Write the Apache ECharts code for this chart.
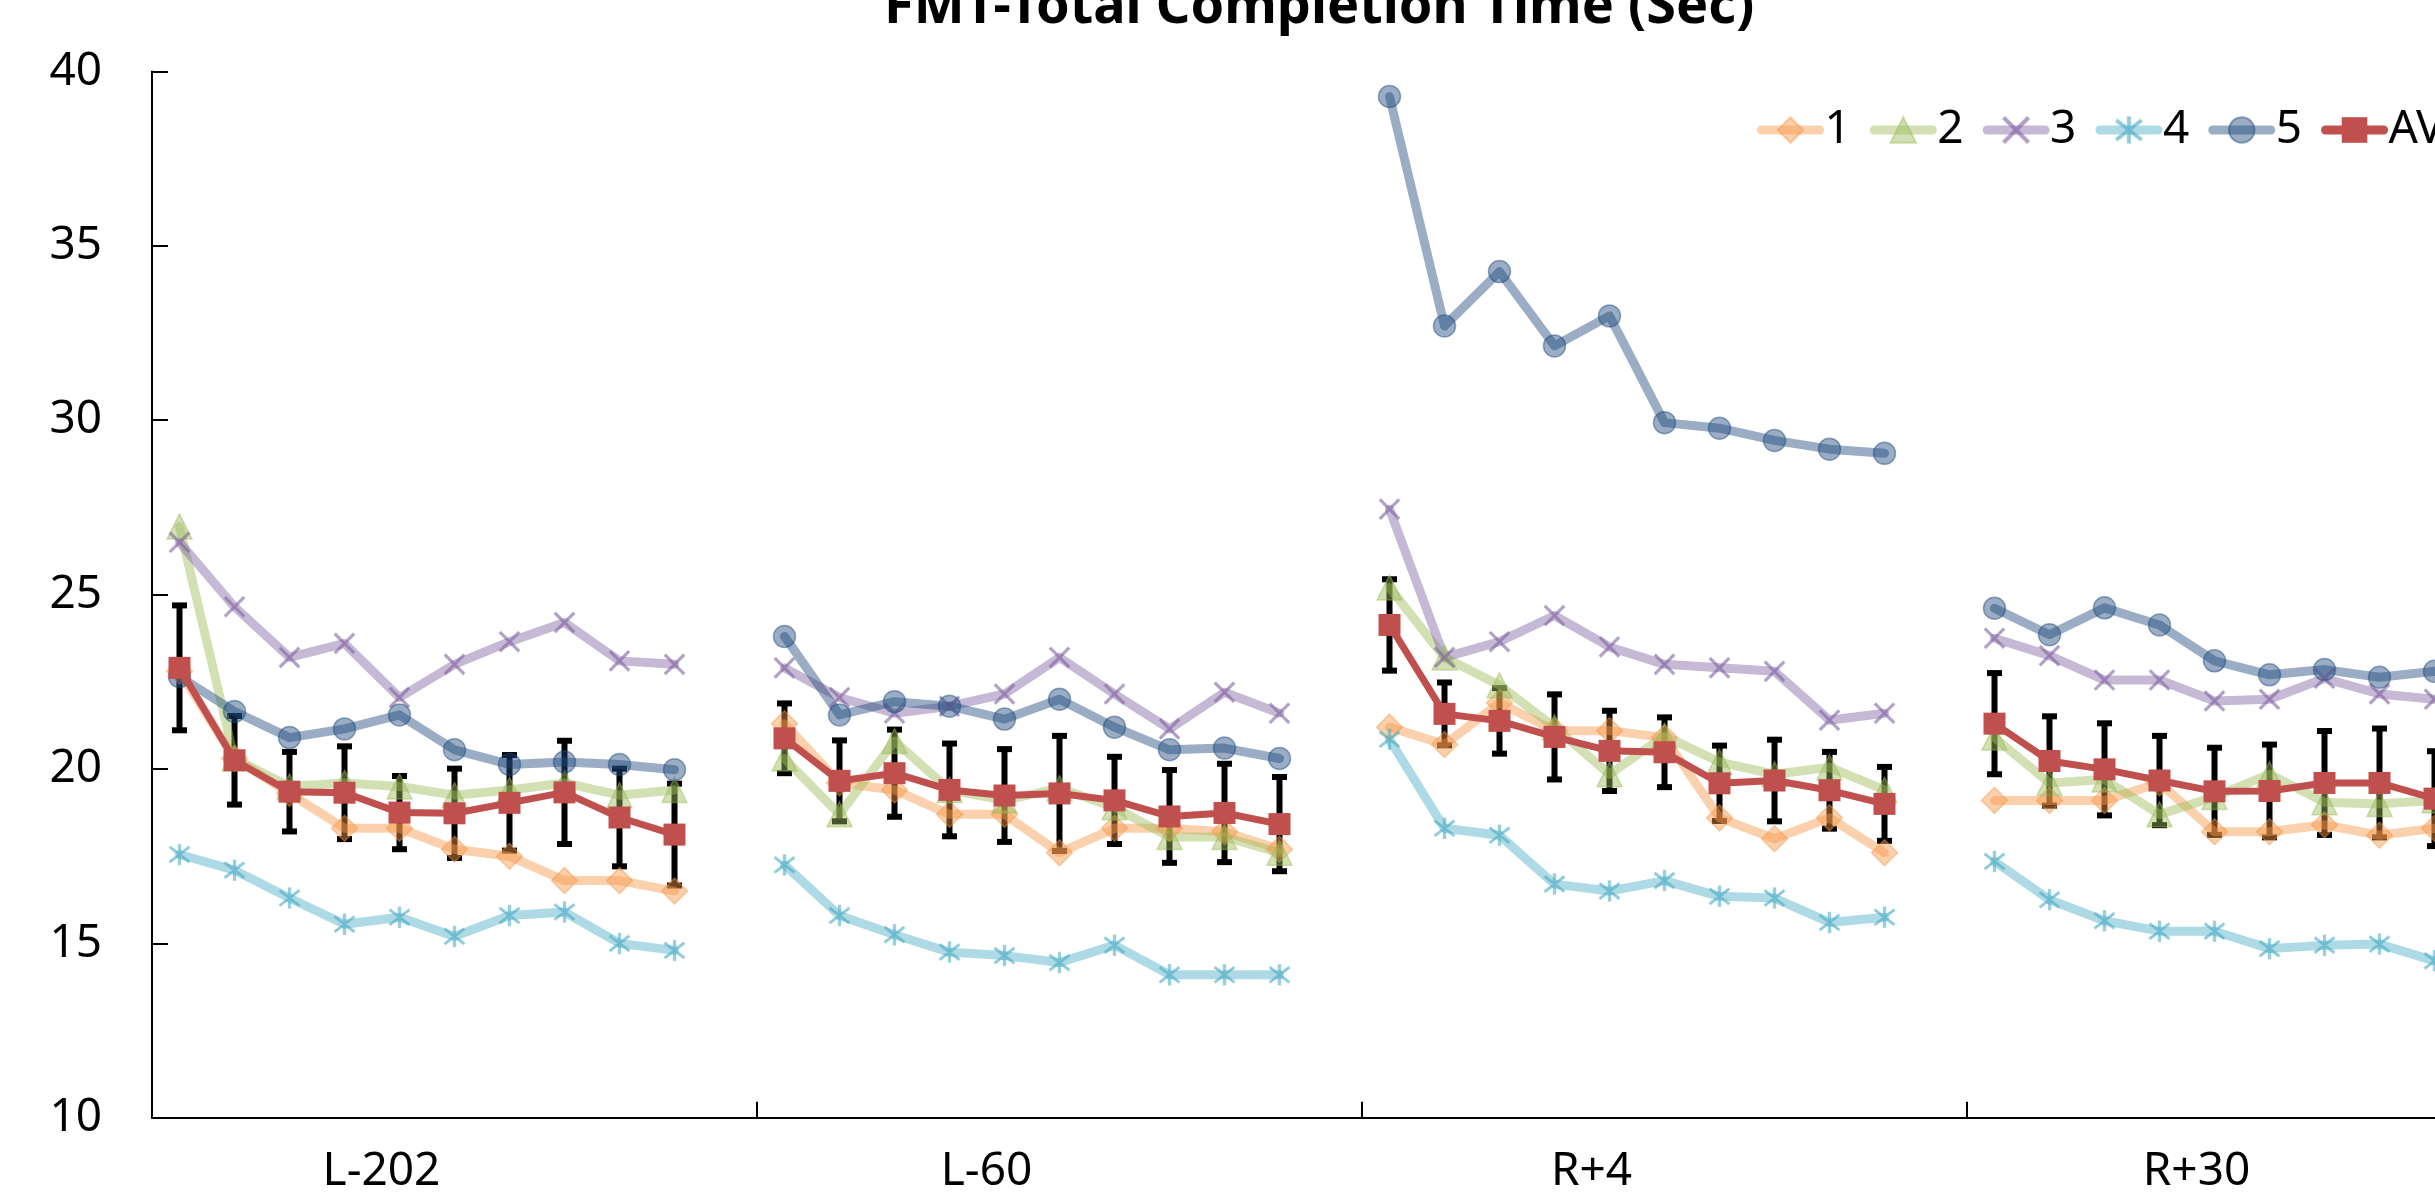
<!DOCTYPE html>
<html><head><meta charset="utf-8">
<script src="https://cdn.jsdelivr.net/npm/echarts@6/dist/echarts.min.js"></script>
<style>html,body{margin:0;padding:0;background:#fff}#c{width:2435px;height:1201px}</style>
</head><body><div id="c"></div>
<script>
// ---- data (10 trials per session) ----
const groups = ['L-202', 'L-60', 'R+4', 'R+30'];
const seriesNames = ['1', '2', '3', '4', '5', 'AVG'];
const yTicks = [10, 15, 20, 25, 30, 35, 40];

const s1 = [22.8, 20.3, 19.3, 18.3, 18.3, 17.7, 17.5, 16.8, 16.8, 16.5,
            21.3, 19.6, 19.4, 18.7, 18.7, 17.6, 18.3, 18.3, 18.2, 17.7,
            21.2, 20.7, 21.9, 21.1, 21.1, 20.9, 18.6, 18.0, 18.6, 17.6,
            19.1, 19.1, 19.1, 19.6, 18.2, 18.2, 18.4, 18.1, 18.3, 18.1];
const s2 = [26.95, 20.3, 19.5, 19.6, 19.5, 19.25, 19.4, 19.6, 19.25, 19.4,
            20.3, 18.7, 20.8, 19.4, 19.1, 19.45, 18.9, 18.05, 18.05, 17.6,
            25.2, 23.2, 22.4, 21.2, 19.85, 20.95, 20.2, 19.85, 20.05, 19.4,
            20.9, 19.6, 19.7, 18.7, 19.2, 19.85, 19.05, 19.0, 19.1, 19.0];
const s3 = [26.5, 24.65, 23.2, 23.6, 22.05, 23.0, 23.65, 24.2, 23.1, 23.0,
            22.9, 22.05, 21.6, 21.8, 22.15, 23.2, 22.15, 21.15, 22.2, 21.6,
            27.45, 23.2, 23.65, 24.4, 23.5, 23.0, 22.9, 22.8, 21.4, 21.6,
            23.75, 23.25, 22.55, 22.55, 21.95, 22.0, 22.6, 22.15, 22.0, 21.9];
const s4 = [17.55, 17.1, 16.3, 15.55, 15.75, 15.2, 15.8, 15.9, 15.0, 14.8,
            17.25, 15.8, 15.25, 14.75, 14.65, 14.45, 14.95, 14.1, 14.1, 14.1,
            20.85, 18.3, 18.1, 16.7, 16.5, 16.8, 16.35, 16.3, 15.6, 15.75,
            17.35, 16.25, 15.65, 15.35, 15.35, 14.85, 14.95, 14.98, 14.5, 14.3];
const s5 = [22.65, 21.65, 20.9, 21.15, 21.55, 20.55, 20.13, 20.2, 20.13, 19.98,
            23.8, 21.55, 21.93, 21.8, 21.43, 22.0, 21.2, 20.55, 20.6, 20.3,
            39.28, 32.7, 34.26, 32.13, 32.99, 29.93, 29.77, 29.42, 29.17, 29.05,
            24.61, 23.85, 24.62, 24.13, 23.1, 22.7, 22.85, 22.63, 22.8, 22.7];
const avg = [22.9, 20.25, 19.35, 19.32, 18.75, 18.73, 19.03, 19.33, 18.61, 18.12,
             20.88, 19.66, 19.88, 19.4, 19.24, 19.3, 19.1, 18.64, 18.74, 18.42,
             24.13, 21.58, 21.38, 20.92, 20.52, 20.48, 19.59, 19.67, 19.39, 19.0,
             21.3, 20.23, 19.99, 19.67, 19.36, 19.37, 19.6, 19.6, 19.15, 18.9];
const err = [1.79, 1.27, 1.14, 1.33, 1.05, 1.28, 1.37, 1.48, 1.40, 1.46,
             1.0, 1.16, 1.25, 1.33, 1.33, 1.65, 1.25, 1.33, 1.41, 1.35,
             1.31, 0.9, 0.94, 1.22, 1.15, 1.0, 1.08, 1.17, 1.1, 1.06,
             1.45, 1.28, 1.32, 1.28, 1.25, 1.33, 1.49, 1.56, 1.36, 1.3];

// ---- build 11 slots per session (10 trials + 1 empty gap) ----
const PER = 10, SLOTS = 11;
const categories = [];
groups.forEach(g => { for (let i = 0; i < SLOTS; i++) categories.push(g + '|' + i); });
function spread(arr) {
  const out = [];
  groups.forEach((g, gi) => {
    for (let i = 0; i < SLOTS; i++) out.push(i < PER ? arr[gi * PER + i] : null);
  });
  return out;
}
const errData = [];
groups.forEach((g, gi) => {
  for (let i = 0; i < PER; i++) {
    const k = gi * PER + i;
    errData.push([gi * SLOTS + i, avg[k] - err[k], avg[k] + err[k]]);
  }
});

const FONT = 'Noto Sans';
const xMark = 'path://M0 7 L7 0 L100 93 L93 100 Z M93 0 L100 7 L7 100 L0 93 Z';
const starMark = 'path://M46 0 L54 0 L54 100 L46 100 Z M10 17 L14 10 L90 83 L86 90 Z M86 10 L90 17 L14 90 L10 83 Z';

function sub(name, data, color, symbol, size) {
  return {
    name, type: 'line', data: spread(data), z: 3,
    symbol, symbolSize: size, showSymbol: true, connectNulls: false,
    lineStyle: { color, width: 9, opacity: 0.45, cap: 'round', join: 'round' },
    itemStyle: { color, opacity: 0.45, borderColor: color, borderWidth: 1.5 },
    emphasis: { disabled: true }
  };
}

const chart = echarts.init(document.getElementById('c'), null, { renderer: 'canvas' });
chart.setOption({
  animation: false,
  backgroundColor: '#fff',
  title: {
    text: 'FMT-Total Completion Time (Sec)',
    left: 884, top: -19, padding: 0,
    textStyle: { fontFamily: FONT, fontWeight: 'bold', fontSize: 54, color: '#000' }
  },
  legend: {
    data: seriesNames, left: 1757, top: 107, padding: 0, width: 1000,
    itemWidth: 58, itemHeight: 32, itemGap: 19,
    textStyle: { fontFamily: FONT, fontSize: 46, color: '#000' },
    lineStyle: { width: 9, cap: 'round' }
  },
  grid: { left: 152, top: 71.4, width: 2420, height: 1046.4,
          containLabel: false, outerBoundsMode: 'none' },
  xAxis: {
    type: 'category', data: categories, boundaryGap: true,
    axisLine: { lineStyle: { color: '#000', width: 2 } },
    axisTick: { show: true, inside: true, length: 16, lineStyle: { color: '#000', width: 2 },
                interval: (i) => i % SLOTS === 0 },
    axisLabel: {
      interval: (i) => i % SLOTS === 4,
      formatter: (v) => v.split('|')[0],
      fontFamily: FONT, fontSize: 46, color: '#000', margin: 31,
      padding: [0, 36, 0, 0]
    },
    splitLine: { show: false }
  },
  yAxis: {
    type: 'value', min: yTicks[0], max: yTicks[yTicks.length - 1], interval: 5,
    axisLine: { show: true, lineStyle: { color: '#000', width: 2 } },
    axisTick: { show: true, inside: true, length: 16, lineStyle: { color: '#000', width: 2 } },
    axisLabel: { fontFamily: FONT, fontSize: 46, color: '#000', margin: 50 },
    splitLine: { show: false }
  },
  series: [
    {
      type: 'custom', name: 'err', z: 2, data: errData,
      encode: { x: 0, y: [1, 2] }, silent: true,
      renderItem(params, api) {
        const x = api.value(0);
        const lo = api.coord([x, api.value(1)]);
        const hi = api.coord([x, api.value(2)]);
        const hw = 7.5;
        const st = { stroke: '#000', lineWidth: 6 };
        return { type: 'group', children: [
          { type: 'line', shape: { x1: lo[0], y1: lo[1], x2: hi[0], y2: hi[1] }, style: st },
          { type: 'line', shape: { x1: hi[0] - hw, y1: hi[1], x2: hi[0] + hw, y2: hi[1] }, style: st },
          { type: 'line', shape: { x1: lo[0] - hw, y1: lo[1], x2: lo[0] + hw, y2: lo[1] }, style: st }
        ]};
      }
    },
    sub('1', s1, '#F79646', 'diamond', 26),
    sub('2', s2, '#9BBB59', 'triangle', 25),
    sub('3', s3, '#8064A2', xMark, 20),
    sub('4', s4, '#4BACC6', starMark, 20),
    sub('5', s5, '#1F497D', 'circle', 22),
    {
      name: 'AVG', type: 'line', data: spread(avg), z: 4,
      symbol: 'rect', symbolSize: 22, connectNulls: false,
      lineStyle: { color: '#C0504D', width: 7, join: 'round' },
      itemStyle: { color: '#C0504D' },
      emphasis: { disabled: true }
    }
  ]
});
</script>
</body></html>
